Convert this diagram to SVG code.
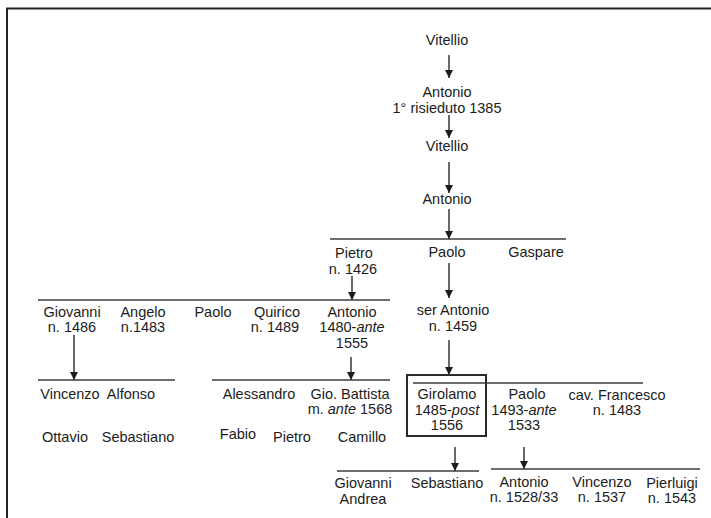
<svg xmlns="http://www.w3.org/2000/svg" width="711" height="518" viewBox="0 0 711 518">
<style>
text{font-family:"Liberation Sans",Arial,sans-serif;font-size:14.5px;fill:#1c1c1c;text-anchor:middle}
.it{font-style:italic}
.ln{stroke:#3c3c3c;stroke-width:1.5;fill:none}
.ar{stroke:#2a2a2a;stroke-width:1.4;fill:none;marker-end:url(#ah)}
.frame{stroke:#222;stroke-width:2;fill:none}
.box{stroke:#2a2a2a;stroke-width:2;fill:none}
</style>
<defs>
<marker id="ah" markerUnits="userSpaceOnUse" markerWidth="8" markerHeight="8" refX="8" refY="4" orient="auto">
<path d="M0,0 L8,4 L0,8 z" fill="#1c1c1c"/>
</marker>
</defs>
<rect x="0" y="0" width="711" height="518" fill="#ffffff"/>
<g id="frame">
<path class="frame" d="M7,518 V8.5 H711"/>
</g>
<g id="connectors">
<line class="ar" x1="449" y1="55" x2="449" y2="78"/>
<line class="ar" x1="449" y1="115" x2="449" y2="138"/>
<line class="ar" x1="449" y1="162" x2="449" y2="193"/>
<line class="ar" x1="449" y1="209" x2="449" y2="239"/>
<line class="ln" x1="330" y1="239" x2="566" y2="239"/>
<line class="ar" x1="352" y1="276" x2="352" y2="300"/>
<line class="ln" x1="38" y1="300" x2="390" y2="300"/>
<line class="ar" x1="449" y1="263" x2="449" y2="298"/>
<line class="ar" x1="449" y1="340" x2="449" y2="375"/>
<line class="ar" x1="74" y1="335" x2="74" y2="380"/>
<line class="ln" x1="38" y1="380" x2="175" y2="380"/>
<line class="ar" x1="351" y1="357" x2="351" y2="380"/>
<line class="ln" x1="212" y1="380" x2="390" y2="380"/>
<line class="ln" x1="413" y1="383" x2="643" y2="383"/>
<line class="ar" x1="455" y1="447" x2="455" y2="471"/>
<line class="ln" x1="337" y1="471" x2="479" y2="471"/>
<line class="ar" x1="524" y1="447" x2="524" y2="469"/>
<line class="ln" x1="491" y1="469" x2="700" y2="469"/>
</g>
<g id="n-vitellio1"><text x="447" y="45">Vitellio</text></g>
<g id="n-antonio1"><text x="447" y="97">Antonio</text><text x="447" y="113">1° risieduto 1385</text></g>
<g id="n-vitellio2"><text x="447" y="151">Vitellio</text></g>
<g id="n-antonio2"><text x="447" y="204">Antonio</text></g>
<g id="n-pietro"><text x="354" y="258">Pietro</text><text x="353" y="274">n. 1426</text></g>
<g id="n-paolo"><text x="447" y="257">Paolo</text></g>
<g id="n-gaspare"><text x="536" y="257">Gaspare</text></g>
<g id="n-giovanni1"><text x="72" y="317">Giovanni</text><text x="72" y="332">n. 1486</text></g>
<g id="n-angelo"><text x="143" y="317">Angelo</text><text x="143" y="332">n.1483</text></g>
<g id="n-paolo2"><text x="213" y="317">Paolo</text></g>
<g id="n-quirico"><text x="277" y="317">Quirico</text><text x="275" y="332">n. 1489</text></g>
<g id="n-antonio3"><text x="352" y="317">Antonio</text><text x="352" y="332">1480-<tspan class="it">ante</tspan></text><text x="352" y="348">1555</text></g>
<g id="n-serantonio"><text x="453" y="315">ser Antonio</text><text x="453" y="331">n. 1459</text></g>
<g id="n-vincenzo1"><text x="70" y="399">Vincenzo</text></g>
<g id="n-alfonso"><text x="131" y="399">Alfonso</text></g>
<g id="n-alessandro"><text x="259" y="399">Alessandro</text></g>
<g id="n-giobattista"><text x="350" y="399">Gio. Battista</text><text x="350" y="414">m. <tspan class="it">ante</tspan> 1568</text></g>
<g id="n-girolamo"><rect class="box" x="407" y="375" width="79" height="61"/><text x="447" y="399">Girolamo</text><text x="447" y="415">1485-<tspan class="it">post</tspan></text><text x="447" y="430">1556</text></g>
<g id="n-paolo3"><text x="527" y="399">Paolo</text><text x="524" y="415">1493-<tspan class="it">ante</tspan></text><text x="524" y="430">1533</text></g>
<g id="n-francesco"><text x="617" y="400">cav. Francesco</text><text x="617" y="415">n. 1483</text></g>
<g id="n-ottavio"><text x="65" y="442">Ottavio</text></g>
<g id="n-sebastiano1"><text x="138" y="442">Sebastiano</text></g>
<g id="n-fabio"><text x="238" y="439">Fabio</text></g>
<g id="n-pietro2"><text x="292" y="442">Pietro</text></g>
<g id="n-camillo"><text x="362" y="442">Camillo</text></g>
<g id="n-giovanniandrea"><text x="363" y="488">Giovanni</text><text x="363" y="504">Andrea</text></g>
<g id="n-sebastiano2"><text x="447" y="488">Sebastiano</text></g>
<g id="n-antonio4"><text x="524" y="487">Antonio</text><text x="524" y="502">n. 1528/33</text></g>
<g id="n-vincenzo2"><text x="602" y="487">Vincenzo</text><text x="602" y="502">n. 1537</text></g>
<g id="n-pierluigi"><text x="672" y="488">Pierluigi</text><text x="672" y="503">n. 1543</text></g>
</svg>
